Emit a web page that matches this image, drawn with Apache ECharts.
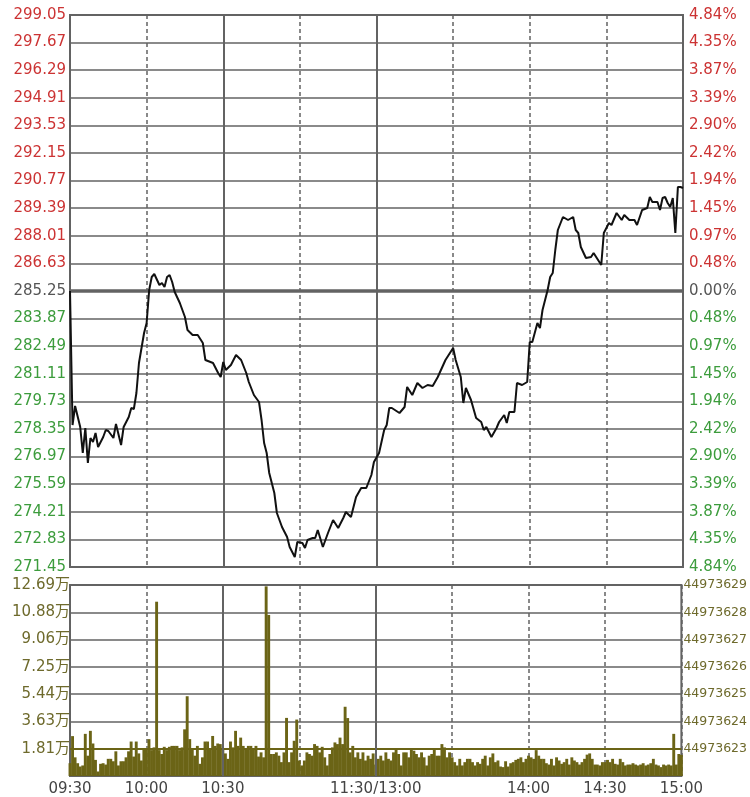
<!DOCTYPE html>
<html><head><meta charset="utf-8">
<script src="https://cdn.jsdelivr.net/npm/echarts@6/dist/echarts.min.js"></script>
<style>html,body{margin:0;padding:0;background:#fff}#c{width:750px;height:797px}</style>
</head><body><div id="c"></div>
<script>
// ---- data ----
const timeLabels = ['09:30','10:00','10:30','','11:30/13:00','','14:00','14:30','15:00'];
const prevClose = 285.25;
const priceStep = 1.38;
const priceSteps = 10;
const volMax = 12.69;      // 万
const volSteps = 7;
const volRightTop = 44973629;
const volRightBottom = 44973622;

const priceMinutes = [0,1,2,4,5,6,7,8,9,10,11,13,14,15,17,18,20,21,23,24,25,26,27,29,30,31,32,33,35,36,37,38,39,40,41,43,45,46,48,50,52,53,55,56,58,59,60,61,63,65,67,69,70,72,74,75,76,77,78,80,81,83,85,86,88,89,91,92,93,95,96,97,99,101,103,105,107,108,110,112,114,116,118,119,121,123,124,125,126,129,131,132,134,136,138,140,142,144,147,149,150,151,153,154,155,157,159,161,162,163,165,167,168,170,171,172,174,175,177,179,180,181,183,184,185,187,188,189,190,191,193,195,197,198,199,200,202,204,205,206,208,209,211,212,214,216,217,219,221,222,224,226,227,228,230,231,232,233,234,235,236,237,238,239,240];
const prices = [285.25,278.55,279.50,278.45,277.15,278.40,276.65,277.90,277.70,278.15,277.45,277.95,278.30,278.25,277.90,278.60,277.55,278.45,278.95,279.40,279.35,280.15,281.65,283.15,283.65,285.30,285.95,286.10,285.55,285.65,285.45,285.95,286.05,285.70,285.20,284.65,283.95,283.30,283.05,283.05,282.65,281.80,281.70,281.65,281.15,280.95,281.70,281.30,281.55,282.05,281.80,281.15,280.70,280.05,279.70,278.80,277.65,277.15,276.15,275.15,274.15,273.45,272.95,272.45,271.95,272.70,272.65,272.40,272.80,272.90,272.90,273.30,272.45,273.15,273.80,273.40,273.90,274.20,273.95,274.95,275.40,275.40,276.05,276.70,277.15,278.30,278.55,279.40,279.40,279.15,279.45,280.45,280.05,280.65,280.40,280.55,280.50,280.95,281.80,282.20,282.40,281.80,280.95,279.65,280.40,279.80,278.90,278.70,278.30,278.45,277.95,278.40,278.70,279.05,278.65,279.20,279.20,280.65,280.55,280.70,282.70,282.70,283.65,283.40,284.30,285.30,285.95,286.15,287.30,288.30,288.95,288.80,288.95,288.30,288.15,287.45,286.90,286.95,287.15,286.95,286.55,288.15,288.65,288.55,289.15,288.80,289.05,288.80,288.80,288.55,289.30,289.40,289.95,289.70,289.70,289.30,289.90,289.95,289.65,289.45,289.90,288.15,290.45,290.45,290.40];

// volume per minute, in 万
const volumes = [
0.85,2.65,1.24,0.85,0.63,0.70,2.80,1.35,3.00,2.16,
1.07,0.30,0.81,0.85,0.76,1.14,1.14,0.98,1.64,0.70,
0.98,0.98,1.24,1.64,2.29,1.29,2.29,1.50,1.03,1.79,
1.79,2.45,1.72,1.90,11.58,1.72,1.46,1.94,1.72,1.94,
2.00,2.00,2.00,1.72,1.90,3.10,5.30,2.45,1.79,1.35,
2.00,0.81,1.24,2.29,2.29,1.79,2.66,2.00,2.16,2.12,
1.86,1.50,1.14,2.29,1.90,3.00,2.00,2.55,2.00,1.79,
2.00,2.00,1.79,2.00,1.29,1.57,1.24,12.60,10.70,1.46,
1.46,1.57,1.35,0.92,1.57,3.86,0.92,1.57,2.34,3.75,
1.03,0.70,1.03,1.57,1.46,1.35,2.12,2.00,1.57,1.94,
1.24,0.70,1.46,1.90,2.23,2.12,2.55,2.12,4.60,3.85,
1.57,2.00,1.24,1.57,1.14,1.57,1.03,1.35,1.14,1.50,
0.76,1.14,1.35,1.03,1.57,1.14,1.03,1.57,1.79,1.46,
0.70,1.57,1.57,1.24,1.79,1.68,1.46,1.24,1.57,1.24,
0.70,1.35,1.46,1.79,1.35,1.35,2.12,1.90,1.24,1.57,
1.24,0.92,0.70,1.14,0.70,0.92,1.14,1.14,0.92,0.70,
0.92,0.81,1.14,1.35,0.70,1.24,1.50,0.92,1.03,0.63,
0.59,0.98,0.63,0.85,0.92,1.07,1.14,1.24,0.92,1.14,
1.35,1.24,1.14,1.72,1.35,1.14,1.14,0.85,0.76,1.14,
0.70,1.24,1.03,0.81,0.92,1.14,0.76,1.24,1.03,0.92,
0.76,0.92,1.14,1.42,1.50,1.14,0.76,0.76,0.70,0.92,
0.92,1.07,0.92,1.14,0.81,0.76,1.14,0.92,0.70,0.76,
0.76,0.85,0.76,0.70,0.76,0.85,0.70,0.76,0.85,1.14,
0.76,0.70,0.59,0.76,0.70,0.76,0.70,2.80,0.76,1.46,
1.40];

// ---- chart ----
const FONT = '"DejaVu Sans","Noto Sans CJK SC",sans-serif';
const GRID = '#636363';
const OLIVE = '#6b6416';
const OLIVE_TXT = '#6e6a2c';
const RED = '#cc3333';
const GREEN = '#3c9c3c';
const GRAY_TXT = '#555555';

const stepC = Math.round(priceStep * 100);
const spanC = stepC * priceSteps;
const toCents = p => Math.round((p - prevClose) * 100);
const priceColor = v => v > 0 ? RED : (v < 0 ? GREEN : GRAY_TXT);

const chart = echarts.init(document.getElementById('c'), null, {renderer: 'canvas'});

const xCommon = {
  type: 'value', min: 0, max: 240, interval: 30,
  axisLine: {show: false}, axisTick: {show: false},
  splitLine: {show: true, lineStyle: {color: GRID, width: 1.5, type: [4, 3]}}
};

const vLines = [{xAxis: 60}, {xAxis: 120}];

chart.setOption({
  animation: false,
  backgroundColor: '#fff',
  grid: [
    {left: 70, right: 67, top: 15, height: 552, show: true, borderColor: GRID, borderWidth: 2},
    {left: 70, right: 67, top: 585, height: 194, show: true, borderColor: GRID, borderWidth: 2}
  ],
  xAxis: [
    Object.assign({}, xCommon, {gridIndex: 0, axisLabel: {show: false}}),
    Object.assign({}, xCommon, {gridIndex: 1, axisLabel: {
      show: true, margin: 6, fontSize: 15, fontFamily: FONT, color: '#444',
      formatter: v => timeLabels[Math.round(v / 30)] || ''
    }})
  ],
  yAxis: [
    {
      gridIndex: 0, type: 'value', min: -spanC, max: spanC, interval: stepC,
      axisLine: {show: false}, axisTick: {show: false},
      splitLine: {show: true, lineStyle: {color: GRID, width: 1.5}},
      axisLabel: {margin: 4, fontSize: 15, fontFamily: FONT,
        formatter: v => (prevClose + v / 100).toFixed(2), color: v => priceColor(v)}
    },
    {
      gridIndex: 0, type: 'value', position: 'right', min: -spanC, max: spanC, interval: stepC,
      axisLine: {show: false}, axisTick: {show: false}, splitLine: {show: false},
      axisLabel: {margin: 6, fontSize: 15, fontFamily: FONT,
        formatter: v => (Math.abs(v) / 100 / prevClose * 100).toFixed(2) + '%', color: v => priceColor(v)}
    },
    {
      gridIndex: 1, type: 'value', min: 0, max: volMax, interval: volMax / volSteps,
      axisLine: {show: false}, axisTick: {show: false},
      splitLine: {show: true, lineStyle: {color: GRID, width: 1.5}},
      axisLabel: {margin: 0, fontSize: 15, fontFamily: FONT, color: OLIVE_TXT, showMinLabel: false,
        padding: [4, 0, 0, 0], formatter: v => v.toFixed(2) + '万'}
    },
    {
      gridIndex: 1, type: 'value', position: 'right', min: volRightBottom, max: volRightTop, interval: 1,
      axisLine: {show: false}, axisTick: {show: false}, splitLine: {show: false},
      axisLabel: {margin: 2, fontSize: 12.5, fontFamily: FONT, color: OLIVE_TXT, showMinLabel: false,
        formatter: v => String(Math.round(v))}
    }
  ],
  series: [
    {
      type: 'line', xAxisIndex: 0, yAxisIndex: 0,
      data: priceMinutes.map((m, i) => [m, toCents(prices[i])]),
      symbol: 'none', lineStyle: {color: '#111', width: 2}, z: 5,
      markLine: {
        silent: true, symbol: 'none', label: {show: false},
        lineStyle: {color: GRID, width: 2, type: 'solid'},
        data: [{yAxis: 0, lineStyle: {width: 3.5}}].concat(vLines)
      }
    },
    {
      type: 'bar', xAxisIndex: 1, yAxisIndex: 2,
      data: volumes.map((v, i) => [i, v]),
      barWidth: 2.9, itemStyle: {color: OLIVE},
      markLine: {
        silent: true, symbol: 'none', label: {show: false},
        lineStyle: {color: GRID, width: 2, type: 'solid'},
        data: [{yAxis: volMax / volSteps, lineStyle: {color: OLIVE, width: 2}}].concat(vLines)
      }
    }
  ]
});
</script>
</body></html>
